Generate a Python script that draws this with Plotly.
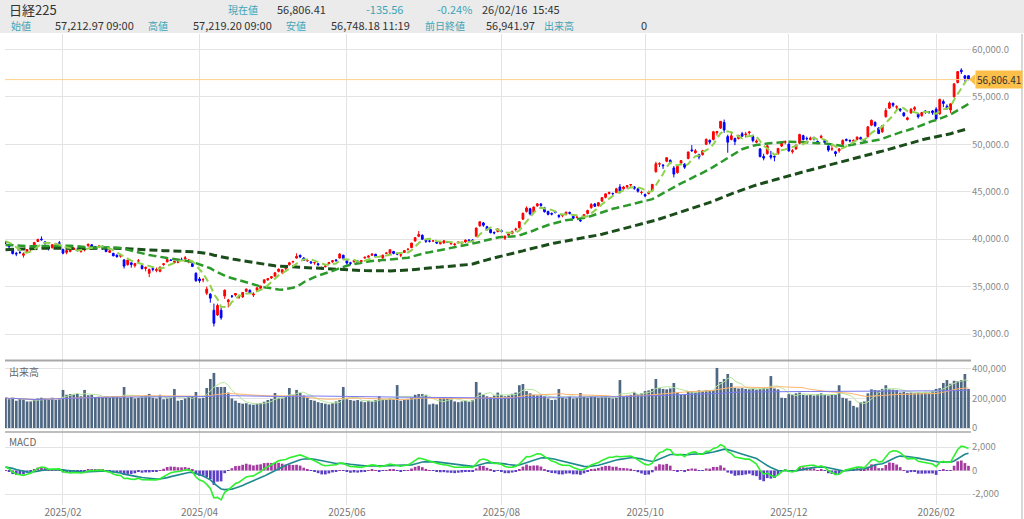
import pandas as pd
import plotly.graph_objects as go

# ---------------- calendar (trading days, TSE holidays removed) ----------------
holidays = ['2025-01-13', '2025-02-11', '2025-02-24', '2025-03-20', '2025-04-29', '2025-05-05',
            '2025-05-06', '2025-07-21', '2025-08-11', '2025-09-15', '2025-09-23', '2025-10-13',
            '2025-11-03', '2025-11-24', '2025-12-31', '2026-01-01', '2026-01-02', '2026-01-12',
            '2026-02-11']
dates = pd.date_range('2025-01-09', '2026-02-16', freq=pd.offsets.CustomBusinessDay(holidays=holidays))
x = dates.strftime('%Y-%m-%d').tolist()

tick_vals = ['2025-02-03', '2025-04-01', '2025-06-02', '2025-08-01', '2025-10-01', '2025-12-01', '2026-02-02']
tick_text = ['2025/02', '2025/04', '2025/06', '2025/08', '2025/10', '2025/12', '2026/02']

# ---------------- prices ----------------
open_ = [
    39680, 39350, 39000, 38500, 38600, 38300, 38650, 38950, 39300, 39750, 40000, 39700, 39200, 39100, 39450, 39600,
    38900, 38600, 38700, 38900, 38950, 38700, 38850, 39300, 39400, 39200, 39150, 39250, 38950, 38600, 38500, 38300, 38200, 37800,
    37300, 37500, 37200, 37700, 37200, 36900, 36400, 36900, 36700, 36600, 37300, 37600, 37800, 37500, 37550, 37800, 37900, 37700, 37400, 36400,
    35800, 35700, 34300, 34200, 32500, 32000, 32500, 34000, 33400, 34000, 34100, 33900, 33900, 34500, 34600, 34100, 34600, 34800, 35400, 35700, 35900,
    36100, 36600, 36500, 36900, 37300, 37600, 38000, 38300, 38000, 37700, 37600, 37500, 37400, 37000, 37100, 37400, 37600, 37800, 38000, 38300,
    37700, 37500, 37600, 37700, 37600, 38000, 38100, 38300, 38400, 37700, 38000, 38500, 38500, 38700, 38500, 38300, 38600, 38900, 39100, 39800, 40300,
    40400, 39900, 39800, 39800, 39700, 39500, 39600, 39700, 39500, 39400, 39600, 39600, 39700, 39900, 39900, 40300, 41400, 41700, 41300, 41000, 40700, 40800,
    40900, 40100, 40400, 40600, 41000, 41200, 42100, 42900, 43200, 42800, 43500, 43700, 43300, 42900, 42700, 42900, 42500, 42500, 42600, 42800,
    42400, 42300, 42000, 42200, 42700, 43300, 43700, 43500, 44000, 44400, 44800, 44800, 44900, 45500, 45300, 45500, 45700, 45500, 45300, 44900,
    44700, 44800, 45100, 47100, 47900, 47800, 48200, 48300, 47500, 47000, 48000, 47900, 48500, 49400, 49100, 48900, 48900, 50000, 50400, 50500, 51200, 51700,
    52300, 50800, 50500, 50600, 50600, 51100, 51000, 51200, 50800, 50200, 49500, 48700, 49000, 48800, 48700, 49000, 49800, 50200,
    50000, 49200, 49500, 50100, 50900, 50600, 50500, 50700, 50300, 50700, 50400, 49800, 49500, 49200, 49300, 50000, 50500, 50400, 50300, 50500, 50700, 50400,
    50800, 52000, 52300, 51700, 51300, 52900, 53800, 54300, 53900, 53700, 53300, 52600, 53300, 53700, 53200, 53000, 53500, 53400, 53500,
    53700, 53200, 54500, 54000, 53600, 55000, 56500, 57800, 57200, 57212.97,
]
high = [
    39770, 39450, 39050, 38650, 38750, 38600, 38950, 39100, 39700, 40050, 40280, 39800, 39300, 39450, 39600, 39800,
    39000, 38900, 38950, 39100, 39000, 38850, 39050, 39500, 39450, 39250, 39350, 39300, 39000, 38900, 38550, 38400, 38350, 37900,
    37800, 37550, 37500, 37900, 37300, 37100, 36900, 37100, 37000, 37100, 37450, 37900, 37900, 37700, 37700, 38050, 38220, 37900, 37500, 36500,
    36000, 35900, 35000, 34300, 33200, 33200, 32800, 34700, 33700, 34100, 34300, 34100, 34400, 34800, 34700, 34400, 34900, 35100, 35750, 35900, 36100,
    36500, 36900, 36800, 37100, 37600, 37700, 38500, 38350, 38100, 37900, 37650, 37600, 37500, 37100, 37300, 37600, 37800, 37900, 38500, 38350,
    37750, 37600, 37800, 37800, 37800, 38150, 38300, 38500, 38450, 37900, 38350, 38600, 38900, 38750, 38600, 38400, 38850, 39000, 39600, 40200, 40850,
    40500, 40000, 39900, 39900, 39800, 39750, 39900, 39800, 39700, 39600, 39800, 39700, 39950, 40000, 40000, 41200, 41850, 41800, 41400, 41100, 40800, 41100,
    41000, 40400, 40600, 40900, 41200, 41900, 42800, 43450, 43300, 43450, 43800, 43800, 43400, 43000, 42800, 43000, 42600, 42600, 42900, 42900,
    42500, 42500, 42100, 42600, 43100, 43800, 43800, 43900, 44400, 44800, 45000, 44900, 45400, 45800, 45600, 45700, 45800, 45600, 45400, 45100,
    44800, 45100, 45800, 48150, 48100, 47900, 48600, 48400, 47700, 47700, 48300, 48000, 49200, 49900, 49500, 49000, 49400, 50600, 50500, 51400, 51400, 52400,
    52600, 51000, 51300, 50700, 51000, 51300, 51300, 51400, 51000, 50500, 49600, 49000, 50000, 49300, 48900, 49600, 50200, 50400,
    50100, 49500, 50000, 51100, 51000, 50800, 50800, 50800, 50400, 51000, 50500, 49900, 49800, 49300, 49600, 50500, 50600, 50500, 50500, 50800, 50800, 50500,
    51900, 52600, 52400, 51800, 52000, 53800, 54500, 54400, 54100, 53800, 53400, 52900, 53800, 54000, 53300, 53400, 53600, 53500, 53600,
    53900, 54800, 54700, 54200, 54300, 56400, 57700, 58000, 57300, 57219.20,
]
low = [
    39480, 39020, 38380, 38200, 38450, 38050, 38600, 38770, 39250, 39700, 39850, 39400, 38800, 39000, 39350, 39500,
    38400, 38400, 38600, 38850, 38700, 38550, 38700, 39200, 39100, 39050, 39050, 38850, 38650, 38550, 38200, 38050, 38050, 36900,
    37200, 37000, 37000, 37600, 36800, 36600, 35990, 36600, 36500, 36500, 37200, 37550, 37700, 37400, 37450, 37750, 37850, 37450, 37050, 35500,
    35400, 35450, 34100, 33300, 30792, 31900, 31500, 33700, 32800, 33800, 33950, 33700, 33800, 34400, 34200, 33900, 34550, 34700, 35300, 35600, 35800,
    36000, 36500, 36300, 36700, 37200, 37450, 37950, 38000, 37700, 37600, 37400, 37300, 37200, 36800, 37000, 37350, 37500, 37650, 37950, 37800,
    37300, 37250, 37550, 37500, 37500, 37950, 38050, 38250, 38100, 37550, 37950, 38400, 38450, 38400, 38300, 38100, 38550, 38800, 39050, 39750, 40200,
    39900, 39600, 39650, 39700, 39500, 39450, 39500, 39600, 39400, 39300, 39550, 39400, 39600, 39700, 39600, 40200, 41300, 41300, 40900, 40600, 40500, 40700,
    40700, 39900, 40300, 40500, 40800, 41100, 42000, 42800, 42500, 42700, 43400, 43400, 42800, 42500, 42500, 42700, 42200, 42300, 42500, 42600,
    42100, 42200, 41800, 42100, 42600, 43200, 43400, 43450, 43950, 44300, 44700, 44600, 44850, 44800, 45200, 45300, 45500, 45200, 44900, 44700,
    44400, 44700, 45000, 47000, 47600, 47400, 48100, 47900, 46500, 46900, 47900, 47400, 48400, 49200, 49000, 48400, 48800, 49900, 50000, 50400, 50900, 51600,
    51200, 49100, 50400, 49900, 50500, 50800, 50700, 51000, 50200, 50100, 48600, 48300, 48900, 48400, 48200, 48900, 49700, 50000,
    49200, 49000, 49400, 50000, 50400, 50400, 50400, 50400, 50000, 50600, 50000, 49200, 49300, 48700, 49100, 49900, 50300, 50200, 50250, 50400, 50500, 50300,
    50700, 51900, 51800, 51100, 51200, 52800, 53700, 53900, 53700, 53400, 52900, 52500, 53200, 53500, 52700, 52900, 53200, 53200, 53100,
    52600, 53100, 53900, 53600, 53300, 54900, 56400, 57400, 56600, 56748.18,
]
close = [
    39605, 39190, 38474, 38444, 38572, 38451, 38902, 39027, 39646, 39958, 39931, 39565, 39016, 39414, 39513, 39572,
    38520, 38798, 38831, 39066, 38787, 38801, 38964, 39461, 39149, 39174, 39270, 39164, 38678, 38776, 38237, 38142, 38256, 37155,
    37785, 37331, 37418, 37704, 36887, 37028, 36793, 36819, 36790, 37053, 37396, 37845, 37751, 37677, 37608, 37780, 38027, 37799, 37120, 35617,
    35624, 35725, 34735, 33780, 31136, 33012, 31714, 34609, 33585, 33982, 34267, 33920, 34377, 34730, 34280, 34220, 34868, 35039, 35705, 35839, 36045,
    36452, 36831, 36780, 36928, 37503, 37644, 38183, 38128, 37755, 37753, 37498, 37529, 37298, 36985, 37160, 37531, 37724, 37722, 38432, 37965,
    37470, 37446, 37747, 37554, 37741, 38088, 38211, 38421, 38173, 37834, 38311, 38536, 38885, 38488, 38403, 38354, 38790, 38942, 39584, 40150, 40487,
    39986, 39762, 39785, 39810, 39587, 39688, 39821, 39646, 39570, 39459, 39678, 39663, 39901, 39819, 39774, 41171, 41826, 41456, 40998, 40674, 40654, 41069,
    40800, 40290, 40549, 40794, 41059, 41820, 42718, 43274, 42649, 43378, 43714, 43546, 42888, 42610, 42633, 42807, 42394, 42520, 42829, 42718,
    42188, 42310, 41938, 42580, 43018, 43643, 43459, 43837, 44372, 44768, 44902, 44790, 45303, 45045, 45493, 45630, 45754, 45354, 45043, 44932,
    44550, 44936, 45769, 47944, 47950, 47734, 48580, 48088, 46847, 47672, 48277, 47582, 49185, 49316, 49307, 48641, 49299, 50512, 50219, 51307, 51325, 52411,
    51497, 50212, 50883, 50276, 50912, 50843, 51063, 51281, 50377, 50324, 48703, 48537, 49824, 48626, 48660, 49559, 50167, 50253,
    49303, 49303, 49865, 51028, 50492, 50581, 50656, 50603, 50149, 50837, 50168, 49383, 49512, 49001, 49507, 50402, 50412, 50344, 50407, 50750, 50527, 50339,
    51832, 52518, 51962, 51117, 51940, 53549, 54341, 54110, 53936, 53584, 52991, 52774, 53689, 53847, 52885, 53333, 53358, 53376, 53323,
    52655, 54720, 54293, 53818, 54254, 56364, 57651, 57640, 56942, 56806.41,
]
# closes before the first visible day (Sep 2024 - Jan 8 2025), used only to seed the averages
warmup_close = [
    38700, 38686, 37047, 36657, 36391, 36159, 36215, 35619, 36833, 36581, 36203, 36380, 37155, 37723, 37940, 37870, 38925, 39829, 37919,
    38651, 37808, 38552, 38635, 39332, 38937, 39277, 39380, 39605, 39910, 39180, 38911, 38981, 38954, 38411, 38104, 38143, 37913, 38605, 39903, 39277, 39081,
    38053, 38474, 39480, 39381, 39500, 39533, 39376, 38721, 38535, 38642, 38220, 38414, 38352, 38026, 38283, 38780, 38442, 38134, 38349, 38208,
    38513, 39248, 39276, 39395, 39091, 39160, 39367, 39372, 39849, 39470, 39457, 39364, 39081, 38813, 38701, 39161, 39036, 39130, 39568, 40281, 39894,
    39307, 40083, 39981,
]
# volume, thousands
volume_k = [
    205, 195, 205, 185, 200, 195, 180, 180, 190, 200, 205, 200, 195, 205, 190, 195,
    258, 225, 230, 228, 232, 215, 258, 222, 225, 205, 212, 208, 210, 205, 215, 212, 205, 278,
    205, 210, 200, 205, 215, 220, 231, 205, 200, 225, 195, 200, 205, 264, 185, 190, 200, 215, 210, 244,
    201, 205, 271, 332, 373, 278, 278, 278, 240, 200, 185, 170, 165, 168, 160, 158, 165, 170, 178, 190, 197,
    237, 205, 200, 215, 271, 225, 258, 237, 220, 205, 190, 185, 175, 170, 165, 160, 170, 180, 190, 278,
    195, 190, 185, 190, 180, 175, 185, 180, 190, 215, 195, 190, 200, 195, 291, 185, 190, 195, 205, 225, 230,
    230, 225, 160, 165, 160, 203, 205, 200, 210, 180, 175, 180, 185, 180, 190, 312, 240, 225, 215, 210, 220, 240,
    225, 215, 220, 232, 240, 290, 298, 250, 235, 225, 220, 222, 215, 200, 190, 192, 264, 205, 200, 215,
    200, 205, 237, 210, 205, 215, 210, 205, 212, 215, 208, 200, 205, 325, 215, 220, 225, 240, 230, 235,
    250, 255, 265, 332, 270, 265, 262, 268, 305, 240, 225, 225, 250, 248, 245, 255, 250, 258, 255, 258, 407, 312,
    332, 366, 305, 272, 268, 270, 265, 262, 268, 260, 265, 270, 268, 352, 268, 262, 205, 203,
    230, 225, 235, 240, 225, 222, 225, 220, 228, 235, 225, 220, 228, 225, 290, 205, 200, 185, 150, 140, 175, 180,
    235, 262, 258, 255, 265, 290, 262, 260, 258, 240, 245, 238, 240, 235, 242, 238, 245, 240, 250,
    265, 270, 305, 325, 300, 320, 318, 325, 366, 265,
]
n = len(x)
assert n == 269, n
for arr in (open_, high, low, close, volume_k):
    assert len(arr) == n, len(arr)

# ---------------- indicators ----------------
MA_SHORT, MA_MID, MA_LONG = 5, 25, 75
MACD_FAST, MACD_SLOW, MACD_SIGNAL = 5, 20, 9

full_close = pd.Series(warmup_close + close)
k = len(warmup_close)
ma5 = full_close.rolling(MA_SHORT).mean().iloc[k:].tolist()
ma25 = full_close.rolling(MA_MID).mean().iloc[k:].tolist()
ma75 = full_close.rolling(MA_LONG, min_periods=60).mean().iloc[k:].tolist()
ema_f = full_close.ewm(span=MACD_FAST, adjust=False).mean()
ema_s = full_close.ewm(span=MACD_SLOW, adjust=False).mean()
macd_full = ema_f - ema_s
sig_full = macd_full.ewm(span=MACD_SIGNAL, adjust=False).mean()
macd = macd_full.iloc[k:].tolist()
signal = sig_full.iloc[k:].tolist()
hist = (macd_full - sig_full).iloc[k:].tolist()

vol = pd.Series(volume_k) * 1000
vma5 = vol.rolling(5, min_periods=1).mean().tolist()
vma25 = vol.rolling(25, min_periods=1).mean().tolist()
vma75 = vol.rolling(75, min_periods=1).mean().tolist()

last_price = close[-1]

# ---------------- geometry helpers (pixel -> paper) ----------------
L, R, T, B = 5, 971, 34, 505
def px(v):
    return (v - L) / (R - L)
def py(v):
    return (B - v) / (B - T)

FONT = 'Noto Sans CJK JP, Noto Sans, sans-serif'
GRID = '#e3e3e3'

fig = go.Figure()
fig.add_trace(go.Candlestick(
    x=x, open=open_, high=high, low=low, close=close,
    increasing=dict(line=dict(color='#ff0000', width=1), fillcolor='#ff0000'),
    decreasing=dict(line=dict(color='#0000ff', width=1), fillcolor='#0000ff'),
    whiskerwidth=0, xaxis='x', yaxis='y', showlegend=False, hoverinfo='skip'))
fig.add_trace(go.Scatter(x=x, y=ma75, mode='lines', line=dict(color='#1b4d1b', width=3, dash='8px,4px'),
                         xaxis='x', yaxis='y', showlegend=False, hoverinfo='skip'))
fig.add_trace(go.Scatter(x=x, y=ma25, mode='lines', line=dict(color='#2b9a2b', width=2.5, dash='8px,4px'),
                         xaxis='x', yaxis='y', showlegend=False, hoverinfo='skip'))
fig.add_trace(go.Scatter(x=x, y=ma5, mode='lines', line=dict(color='#8fd24c', width=2, dash='7px,4px'),
                         xaxis='x', yaxis='y', showlegend=False, hoverinfo='skip'))

# volume panel
fig.add_trace(go.Bar(x=x, y=vol.tolist(), marker=dict(color='#4e6783', line=dict(width=0)),
                     xaxis='x2', yaxis='y2', showlegend=False, hoverinfo='skip'))
fig.add_trace(go.Scatter(x=x, y=vma5, mode='lines', line=dict(color='#b3e89a', width=1),
                         xaxis='x2', yaxis='y2', showlegend=False, hoverinfo='skip'))
fig.add_trace(go.Scatter(x=x, y=vma25, mode='lines', line=dict(color='#ffb46e', width=1),
                         xaxis='x2', yaxis='y2', showlegend=False, hoverinfo='skip'))
fig.add_trace(go.Scatter(x=x, y=vma75, mode='lines', line=dict(color='#7a7af0', width=1),
                         xaxis='x2', yaxis='y2', showlegend=False, hoverinfo='skip'))

# MACD panel
fig.add_trace(go.Bar(x=x, y=hist, marker=dict(color=['#a33a9f' if h >= 0 else '#5b3ec6' for h in hist],
                                              line=dict(width=0)),
                     xaxis='x3', yaxis='y3', showlegend=False, hoverinfo='skip'))
fig.add_trace(go.Scatter(x=x, y=signal, mode='lines', line=dict(color='#1f8a8e', width=1.6),
                         xaxis='x3', yaxis='y3', showlegend=False, hoverinfo='skip'))
fig.add_trace(go.Scatter(x=x, y=macd, mode='lines', line=dict(color='#2ef02e', width=1.6),
                         xaxis='x3', yaxis='y3', showlegend=False, hoverinfo='skip'))

xcommon = dict(type='category', tickmode='array', tickvals=tick_vals, ticktext=tick_text, automargin=False,
               showgrid=True, gridcolor=GRID, gridwidth=1, zeroline=False, showline=False, ticks='')
ycommon = dict(side='right', showgrid=True, gridcolor=GRID, zeroline=False, showline=False, ticks='',
               automargin=False, tickfont=dict(family=FONT, size=9.5, color='#8a8a8a'))

fig.update_layout(
    width=1024, height=519,
    margin=dict(l=L, r=1024 - R, t=T, b=519 - B, pad=0, autoexpand=False),
    paper_bgcolor='white', plot_bgcolor='white',
    font=dict(family=FONT, size=10, color='#666'),
    bargap=0.25, showlegend=False, hovermode=False,
    xaxis=dict(**xcommon, anchor='y', showticklabels=False, range=[-0.14, 268.7],
               rangeslider=dict(visible=False)),
    xaxis2=dict(**xcommon, anchor='y2', matches='x', showticklabels=False),
    xaxis3=dict(**xcommon, anchor='y3', matches='x', showticklabels=True, ticklabelstandoff=0,
                tickfont=dict(family=FONT, size=10, color='#777')),
    yaxis=dict(**ycommon, domain=[py(360), 1], range=[27260, 61612], tickmode='array',
               tickvals=[30000, 35000, 40000, 45000, 50000, 55000, 60000], tickformat=',.1f'),
    yaxis2=dict(**ycommon, domain=[py(432), py(361)], range=[-27000, 454000], tickmode='array',
                tickvals=[0, 200000, 400000], ticktext=['0', '200,000', '400,000']),
    yaxis3=dict(**ycommon, domain=[0, py(432)], range=[-2936, 3277], tickmode='array',
                tickvals=[-2000, 0, 2000], ticktext=['-2,000', '0', '2,000']),
)

shapes = [
    # header band
    dict(type='rect', xref='paper', yref='paper', x0=px(0), x1=px(1024), y0=py(33), y1=py(0),
         fillcolor='#ebebeb', line=dict(width=0), layer='below'),
    # panel separators
    dict(type='line', xref='paper', yref='paper', x0=0, x1=1, y0=py(360.5), y1=py(360.5),
         line=dict(color='#a8a8a8', width=2)),
    dict(type='line', xref='paper', yref='paper', x0=0, x1=1, y0=py(432), y1=py(432),
         line=dict(color='#a8a8a8', width=1.5)),
    # right frame line
    dict(type='line', xref='paper', yref='paper', x0=px(1022), x1=px(1022), y0=py(519), y1=py(34),
         line=dict(color='#b0b0b0', width=1)),
    # current price line
    dict(type='line', xref='paper', yref='y', x0=0, x1=1, y0=last_price, y1=last_price,
         line=dict(color='#ffd08a', width=1)),
    # price tag pointer
    dict(type='path', xref='paper', yref='y',
         path=f'M {px(969)} {last_price} L {px(975)} {last_price + 560} L {px(975)} {last_price - 560} Z',
         fillcolor='#fcbf49', line=dict(width=0)),
]
fig.update_layout(shapes=shapes)

TEAL = '#3ea5b6'
DARK = '#333333'
header = [
    ('日経225', 7, 9, 13, DARK),
    ('現在値', 226, 9, 10, TEAL),
    ('56,806.41', 275, 9, 11, DARK),
    ('-135.56', 364, 9, 11, TEAL),
    ('-0.24%', 435, 9, 11, TEAL),
    ('26/02/16  15:45', 480, 9, 11, DARK),
    ('始値', 9, 25, 10, TEAL),
    ('57,212.97 09:00', 53, 25, 11, DARK),
    ('高値', 146, 25, 10, TEAL),
    ('57,219.20 09:00', 191, 25, 11, DARK),
    ('安値', 284, 25, 10, TEAL),
    ('56,748.18 11:19', 329, 25, 11, DARK),
    ('前日終値', 423, 25, 10, TEAL),
    ('56,941.97', 484, 25, 11, DARK),
    ('出来高', 542, 25, 10, TEAL),
    ('0', 639, 25, 11, DARK),
]
ann = []
for text, hx, hy, size, color in header:
    ann.append(dict(xref='paper', yref='paper', x=px(hx), y=py(hy), xanchor='left', yanchor='middle',
                    text=text, showarrow=False, font=dict(family=FONT, size=size, color=color)))
ann.append(dict(xref='paper', yref='paper', x=px(7), y=py(371), xanchor='left', yanchor='middle',
                text='出来高', showarrow=False, font=dict(family=FONT, size=10, color='#666')))
ann.append(dict(xref='paper', yref='paper', x=px(7), y=py(441), xanchor='left', yanchor='middle',
                text='MACD', showarrow=False, font=dict(family=FONT, size=10, color='#666')))
ann.append(dict(xref='paper', yref='y', x=px(975), y=last_price, xanchor='left', yanchor='middle',
                text=f'{last_price:,.2f}', showarrow=False, bgcolor='#fcbf49', borderpad=1,
                font=dict(family=FONT, size=10, color='#333')))
fig.update_layout(annotations=ann)

fig.write_html('out.html', config={'displayModeBar': False},
               post_script="document.body.style.margin='0px';document.body.style.overflow='hidden';")
